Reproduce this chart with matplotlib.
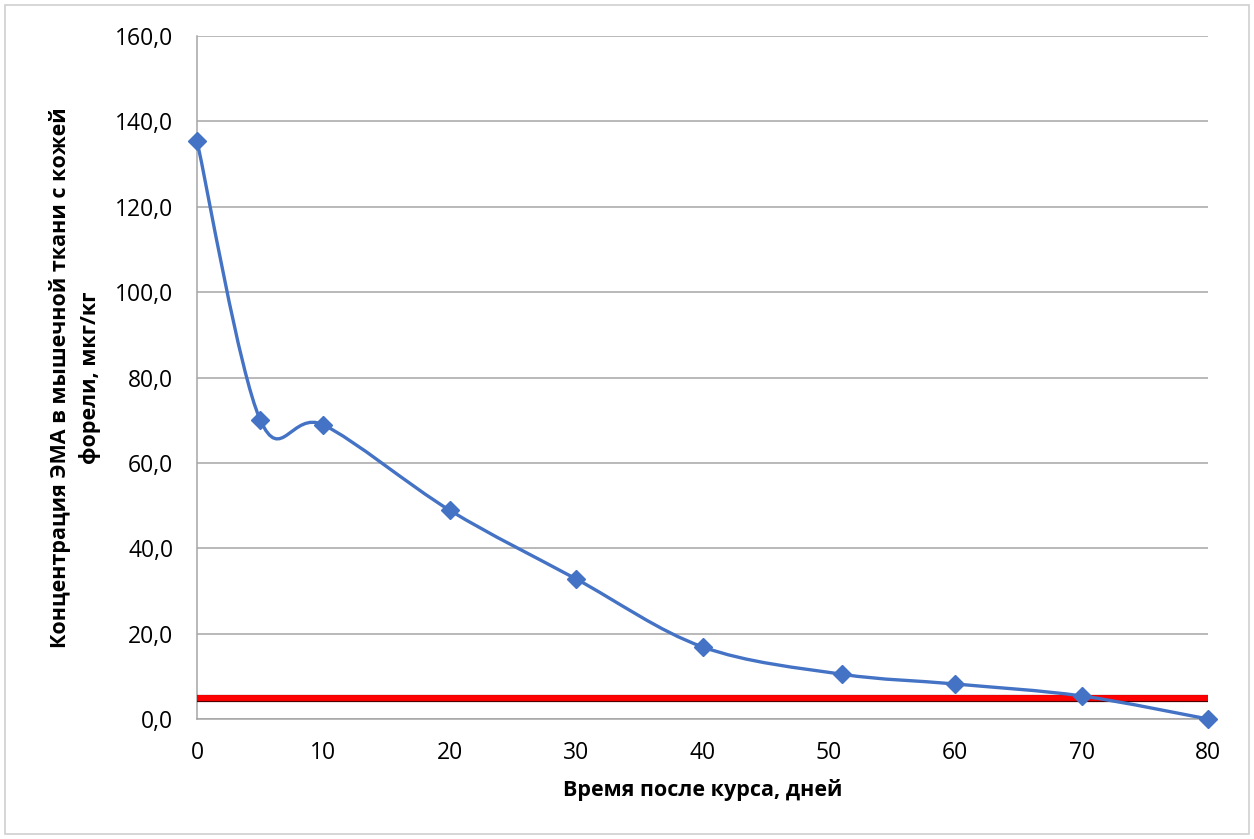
import numpy as np
import matplotlib
matplotlib.use("Agg")
import matplotlib.pyplot as plt
from matplotlib.path import Path
from matplotlib.patches import PathPatch, Rectangle
import matplotlib.patheffects as pe

days = [0, 5, 10, 20, 30, 40, 51, 60, 70, 80]
conc = [135.4, 70.1, 68.9, 48.9, 32.8, 16.9, 10.5, 8.2, 5.4, 0.0]
limit_value = 5.0
x_ticks = [0, 10, 20, 30, 40, 50, 60, 70, 80]
y_ticks = [0, 20, 40, 60, 80, 100, 120, 140, 160]

plt.rcParams['font.family'] = ['Open Sans', 'DejaVu Sans']

fig = plt.figure(figsize=(12.54, 8.39), dpi=100)
ax = fig.add_axes([197/1254, 1-719/839, (1208-197)/1254, (719-36)/839])

# outer frame
fig.patches.append(Rectangle((5/1254, 5/839), 1244/1254, 829/839, transform=fig.transFigure,
                             fill=False, edgecolor='#d0d0d0', linewidth=1.2))

ax.set_xlim(0, 80)
ax.set_ylim(0, 160)
ax.set_xticks(x_ticks)
ax.set_yticks(y_ticks)
ax.set_yticklabels([f"{v:.1f}".replace('.', ',') for v in y_ticks])
ax.tick_params(axis='both', length=0, labelsize=16.5, colors='#000000')
ax.tick_params(axis='y', pad=17)
ax.tick_params(axis='x', pad=16)
ax.grid(axis='y', color='#a6a6a6', linewidth=1.1)
ax.set_axisbelow(True)
for s in ['top', 'right']:
    ax.spines[s].set_visible(False)
for s in ['left', 'bottom']:
    ax.spines[s].set_color('#a6a6a6')
    ax.spines[s].set_linewidth(1.1)

# limit line
ax.axhline(limit_value, color='#ff0000', linewidth=4.2, zorder=3,
           path_effects=[pe.Stroke(linewidth=5.2, foreground='#500000'), pe.Normal()])

# Excel-style smoothed curve (cubic Bezier through points)
x = np.array(days, float)
y = np.array(conc, float)
n = len(x)
verts = [(x[0], y[0])]
codes = [Path.MOVETO]
for i in range(n - 1):
    p0 = np.array([x[max(i-1, 0)], y[max(i-1, 0)]])
    p1 = np.array([x[i], y[i]])
    p2 = np.array([x[i+1], y[i+1]])
    p3 = np.array([x[min(i+2, n-1)], y[min(i+2, n-1)]])
    c1 = p1 + (p2 - p0) / 6.0
    c2 = p2 - (p3 - p1) / 6.0
    verts += [tuple(c1), tuple(c2), tuple(p2)]
    codes += [Path.CURVE4] * 3
ax.add_patch(PathPatch(Path(verts, codes), fill=False, edgecolor='#4472c4',
                       linewidth=2.4, zorder=4, clip_on=False))
ax.plot(days, conc, linestyle='none', marker='D', markersize=9, color='#4472c4',
        zorder=5, clip_on=False)

ax.set_xlabel('Время после курса, дней', fontsize=15.5, fontweight='bold', labelpad=10)
fig.text(75/1254, 1-378/839, 'Концентрация ЭМА в мышечной ткани с кожей\nфорели, мкг/кг',
         rotation=90, ha='center', va='center', fontsize=15.5, fontweight='bold',
         linespacing=1.45)

fig.savefig('out.png', dpi=100)
